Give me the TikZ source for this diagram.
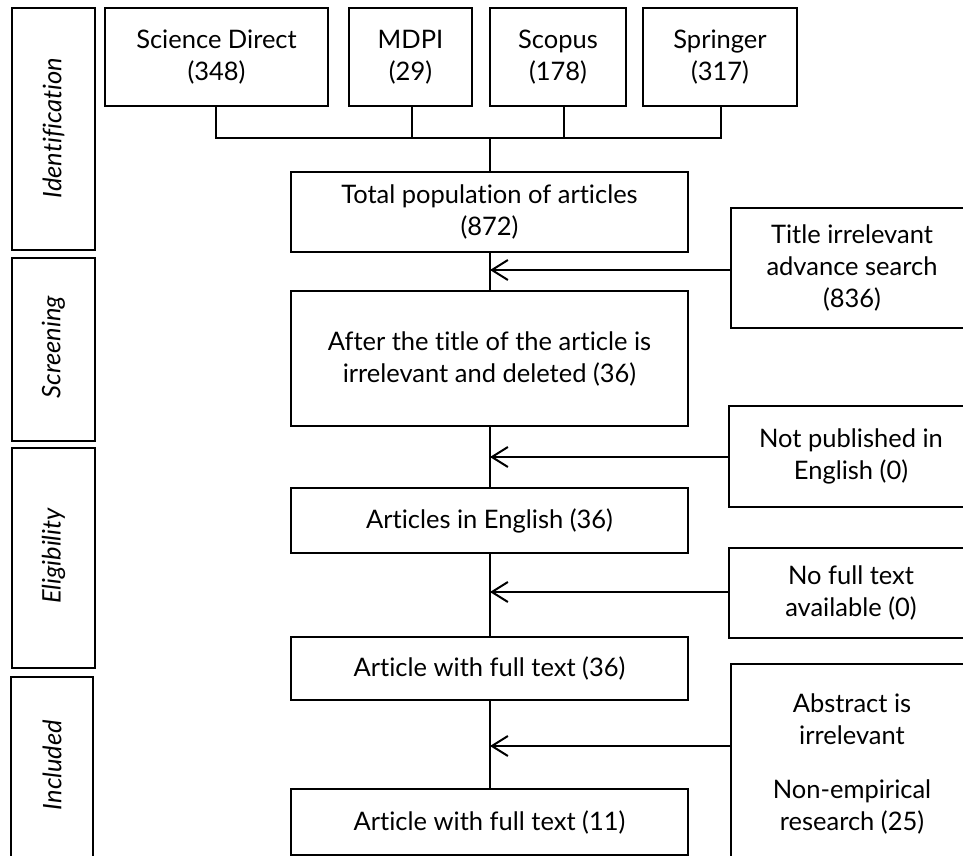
\documentclass[tikz,border=0pt]{standalone}
\usepackage{fontspec}
\setmainfont{Lato}[Ligatures={NoCommon}]
\usetikzlibrary{arrows.meta,positioning,calc}
\begin{document}
\begin{tikzpicture}[x=1pt,y=-1pt,
  box/.style={draw,line width=2pt,inner sep=0pt,align=center,font=\fontsize{25.5}{32}\selectfont},
  stagebox/.style={draw,line width=2pt,inner sep=0pt,minimum width=83pt},
  stagetext/.style={rotate=90,font=\fontsize{25.5}{30}\selectfont\itshape},
  conn/.style={line width=2pt},
  arr/.style={line width=2pt,-{Straight Barb[length=16pt,width=20pt,line width=2pt]}}]
\useasboundingbox (0,0) rectangle (963,856);
\clip (0,0) rectangle (963,856);
% stage boxes
\node[stagebox,minimum height=242pt] (sid) at (53.5,129) {};
\node[stagetext] at (53.5,128) {Identification};
\node[stagebox,minimum height=183pt] (sscr) at (53.5,349) {};
\node[stagetext] at (53.5,347) {Screening};
\node[stagebox,minimum height=220pt] (selig) at (53.5,558) {};
\node[stagetext] at (53.5,556) {Eligibility};
\node[stagebox,minimum height=193pt,minimum width=82pt] (sinc) at (52,773.5) {};
\node[stagetext] at (52,765) {Included};
% sources
\node[box,minimum width=223pt,minimum height=98pt] (sd) at (216.5,57) {Science Direct\\(348)};
\node[box,minimum width=123pt,minimum height=98pt] (mdpi) at (410.5,57) {MDPI\\(29)};
\node[box,minimum width=136pt,minimum height=98pt] (scopus) at (558,57) {Scopus\\(178)};
\node[box,minimum width=154pt,minimum height=98pt] (springer) at (720,57) {Springer\\(317)};
% main column
\node[box,minimum width=397pt,minimum height=80pt] (total) at (489.5,212) {Total population of articles\\(872)};
\node[box,minimum width=397pt,minimum height=135pt] (after) at (489.5,358.5) {After the title of the article is\\irrelevant and deleted (36)};
\node[box,minimum width=397pt,minimum height=65pt] (english) at (489.5,520.5) {Articles in English (36)};
\node[box,minimum width=397pt,minimum height=63pt] (full36) at (489.5,668.5) {Article with full text (36)};
\node[box,minimum width=397pt,minimum height=66pt] (full11) at (489.5,822) {Article with full text (11)};
% exclusion boxes
\node[box,minimum width=242pt,minimum height=120pt] (title) at (852,268) {Title irrelevant\\advance search\\(836)};
\node[box,minimum width=244pt,minimum height=101pt] (notpub) at (851,456.5) {Not published in\\English (0)};
\node[box,minimum width=244pt,minimum height=90pt] (nofull) at (851,593) {No full text\\available (0)};
\node[box,minimum width=242pt,minimum height=200pt] (abstract) at (852,764) {Abstract is\\irrelevant\\[22pt]Non-empirical\\research (25)};
% bus
\coordinate (b1) at (216,138);
\coordinate (b2) at (412,138);
\coordinate (b3) at (564,138);
\coordinate (b4) at (721,138);
\coordinate (bm) at (490,138);
\draw[conn] (b1 |- sd.south) -- (b1) -- (b4) -- (b4 |- springer.south);
\draw[conn] (b2 |- mdpi.south) -- (b2);
\draw[conn] (b3 |- scopus.south) -- (b3);
\draw[conn] (bm) -- (bm |- total.north);
% vertical flow
\coordinate (v) at (490,0);
\draw[conn] (v |- total.south) -- (v |- after.north);
\draw[conn] (v |- after.south) -- (v |- english.north);
\draw[conn] (v |- english.south) -- (v |- full36.north);
\draw[conn] (v |- full36.south) -- (v |- full11.north);
% arrows
\coordinate (a1) at (490,270);
\coordinate (a2) at (490,457);
\coordinate (a3) at (490,592);
\coordinate (a4) at (490,746);
\draw[arr] (title.west |- a1) -- (a1);
\draw[arr] (notpub.west |- a2) -- (a2);
\draw[arr] (nofull.west |- a3) -- (a3);
\draw[arr] (abstract.west |- a4) -- (a4);
\end{tikzpicture}
\end{document}
